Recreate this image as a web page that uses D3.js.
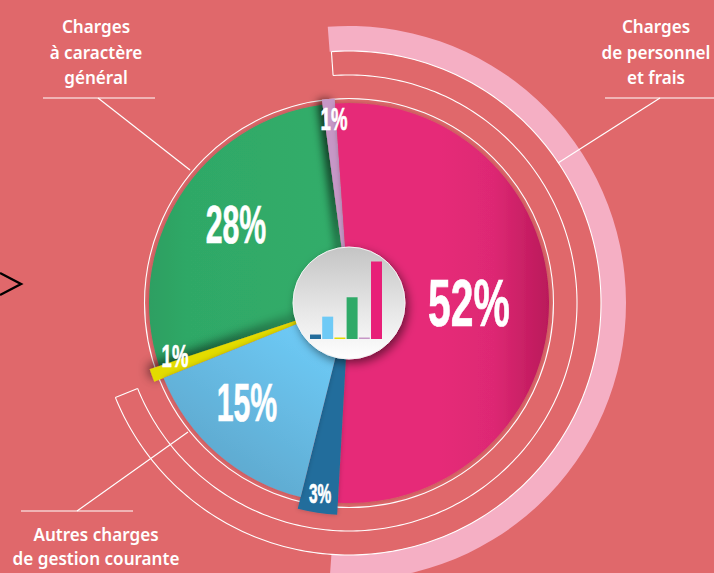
<!DOCTYPE html>
<html>
<head>
<meta charset="utf-8">
<script src="https://cdn.jsdelivr.net/npm/d3@7"></script>
<style>
html,body{margin:0;padding:0;background:#e0686b;overflow:hidden}
svg{display:block}
.pct{font-family:"Liberation Sans",sans-serif;font-weight:700;fill:#fff;stroke:#fff;stroke-width:0.7}
.lbl{font-family:"Noto Sans",sans-serif;font-weight:600;font-size:18px;fill:#fff;text-anchor:middle}
</style>
</head>
<body>
<div id="chart"></div>
<script>
//Share of each expense item, clockwise from the top
var categories=["Charges de personnel et frais","Atténuations de produits","Autres charges de gestion courante","Charges financières","Charges à caractère général","Autres"]
var values=[52,3,15,1,28,1]
var pctLabels=["52%","3%","15%","1%","28%","1%"]
var colors=["#e62b78","#246d9c","#6ecaf6","#e3dc00","#2faa68","#c697c6"]
var labelLeft=["Charges","à caractère","général"]
var labelRight=["Charges","de personnel","et frais"]
var labelBottom=["Autres charges","de gestion courante"]

var width=714, height=573
var cx=349, cy=303
var deg=Math.PI/180

var svg=d3.select("#chart").append("svg")
    .attr("width",width)
    .attr("height",height)

var defs=svg.append("defs")

//gradient coordinates are relative to the pie centre
function grad(id,x1,y1,x2,y2,stops){
    var g=defs.append("linearGradient").attr("id",id)
        .attr("gradientUnits","userSpaceOnUse")
        .attr("x1",x1).attr("y1",y1).attr("x2",x2).attr("y2",y2)
    stops.forEach(s=>g.append("stop").attr("offset",s[0]).attr("stop-color",s[1]))
}
grad("gPink",90,0,200,0,[[0,"#e62b78"],[0.5,"#dd2873"],[1,"#ba195a"]])
grad("gLight",-30,30,-130,180,[[0,"#6ecbf7"],[1,"#5ea7cc"]])
grad("gGreen",-200,0,-10,0,[[0,"#2e9f62"],[0.2,"#2fa866"],[1,"#31ad6a"]])
grad("gDisc",0,-56,0,56,[[0,"#c4c4c4"],[0.55,"#e6e6e6"],[1,"#ffffff"]])

function shadow(id,dx,dy,blur,op){
    var f=defs.append("filter").attr("id",id)
        .attr("x","-150%").attr("y","-50%").attr("width","400%").attr("height","200%")
    f.append("feDropShadow").attr("dx",dx).attr("dy",dy)
        .attr("stdDeviation",blur).attr("flood-color","#000").attr("flood-opacity",op)
}
shadow("sRim",0,0,2.5,0.22)
shadow("sYellow",-2,-3,6,0.7)
shadow("sPurple",-4,1,5,0.8)
shadow("sDisc",3,4,5,0.5)

var root=svg.append("g").attr("transform","translate("+cx+","+cy+")")

//Outer band, same span as the largest slice
var pie=d3.pie().sort(null).value(d=>d).startAngle(-4*deg).endAngle(356*deg)
var arcs=pie(values)

root.append("path")
    .attr("d",d3.arc()({innerRadius:252,outerRadius:277,startAngle:-4.4*deg,endAngle:184*deg}))
    .attr("fill","#f5afc4")

//Bracket arcs
var ring=d3.lineRadial().curve(d3.curveLinear)
function bracket(r0,r1,a0,a1){
    var pts=d3.range(a0,a1+0.5,1).map(a=>[a*deg,r0])
    var back=d3.range(a1,a0-0.5,-1).map(a=>[a*deg,r1])
    return ring(pts)+"M"+ring(back).slice(1)
}
root.append("path")
    .attr("d",bracket(252,228,-4,248))
    .attr("fill","none").attr("stroke","#fff").attr("stroke-width",1.1)
var ends=[-4,248]
ends.forEach(a=>{
    root.append("path")
        .attr("d",ring([[a*deg,228],[a*deg,252]]))
        .attr("stroke","#fff").attr("stroke-width",1.1).attr("fill","none")
})
root.append("circle").attr("r",204.5)
    .attr("fill","none").attr("stroke","#fff").attr("stroke-width",1.1)

//Pie slices; the thin ones stick out from the main radius
var radii=[200,212,200,210,200,205]
var fills=["url(#gPink)",colors[1],"url(#gLight)",colors[3],"url(#gGreen)",colors[5]]
var filters=["sRim","sRim","sRim","sYellow","sRim","sPurple"]
var drawOrder=[4,3,5,0,1,2]

root.selectAll("path.slice")
    .data(drawOrder)
    .enter()
    .append("path")
    .attr("class","slice")
    .attr("d",i=>d3.arc().innerRadius(0).outerRadius(radii[i])(arcs[i]))
    .attr("fill",i=>fills[i])
    .attr("filter",i=>"url(#"+filters[i]+")")

//Leader lines
var leaders=[
    [[43,98],[155,98]],[[98,98],[190,170]],
    [[605,98],[714,98]],[[660,98],[558,163]],
    [[21,511],[133,511]],[[77,511],[188,432]]
]
svg.selectAll("line.leader")
    .data(leaders)
    .enter()
    .append("line")
    .attr("class","leader")
    .attr("x1",d=>d[0][0]).attr("y1",d=>d[0][1])
    .attr("x2",d=>d[1][0]).attr("y2",d=>d[1][1])
    .attr("stroke","#fff").attr("stroke-width",1.2)

//Percent labels, condensed by a horizontal scale
var pctPos=[[469,326,67,0.61],[320,503,28,0.55],[247,421,54,0.56],[175,367,32,0.58],[236,243,54,0.56],[334,130,32,0.58]]
svg.selectAll("text.pct")
    .data(pctLabels)
    .enter()
    .append("text")
    .attr("class","pct")
    .attr("text-anchor","middle")
    .attr("font-size",(d,i)=>pctPos[i][2])
    .attr("transform",(d,i)=>"translate("+pctPos[i][0]+","+pctPos[i][1]+") scale("+pctPos[i][3]+",1)")
    .text(d=>d)

//Central disc with the small bar chart
root.append("circle").attr("r",56)
    .attr("fill","url(#gDisc)")
    .attr("stroke","#f4f4f4").attr("stroke-width",1)
    .attr("filter","url(#sDisc)")

var barOrder=[1,2,3,4,5,0]
var x=d3.scaleBand().domain(barOrder).range([310,382]).paddingInner(0.1)
var y=d3.scaleLinear().domain([0,52]).range([339,261.5])
svg.selectAll("rect.bar")
    .data(barOrder)
    .enter()
    .append("rect")
    .attr("class","bar")
    .attr("x",i=>x(i))
    .attr("y",i=>y(values[i]))
    .attr("width",x.bandwidth())
    .attr("height",i=>y(0)-y(values[i]))
    .attr("fill",i=>i==0?"#e81f78":colors[i])

//Category labels, squeezed a little to match the narrow face
function block(lines,xc,ys){
    svg.selectAll(null)
        .data(lines)
        .enter()
        .append("text")
        .attr("class","lbl")
        .attr("transform",(d,i)=>"translate("+xc+","+ys[i]+") scale(0.95,1)")
        .text(d=>d)
}
block(labelLeft,96,[33,59,84])
block(labelRight,656,[33,59,84])
block(labelBottom,96,[541,565])

//Chevron cut off at the left edge
svg.append("path")
    .attr("d",d3.line()([[0,273],[21,284],[0,295]]))
    .attr("fill","none").attr("stroke","#000").attr("stroke-width",2.4)
</script>
</body>
</html>
